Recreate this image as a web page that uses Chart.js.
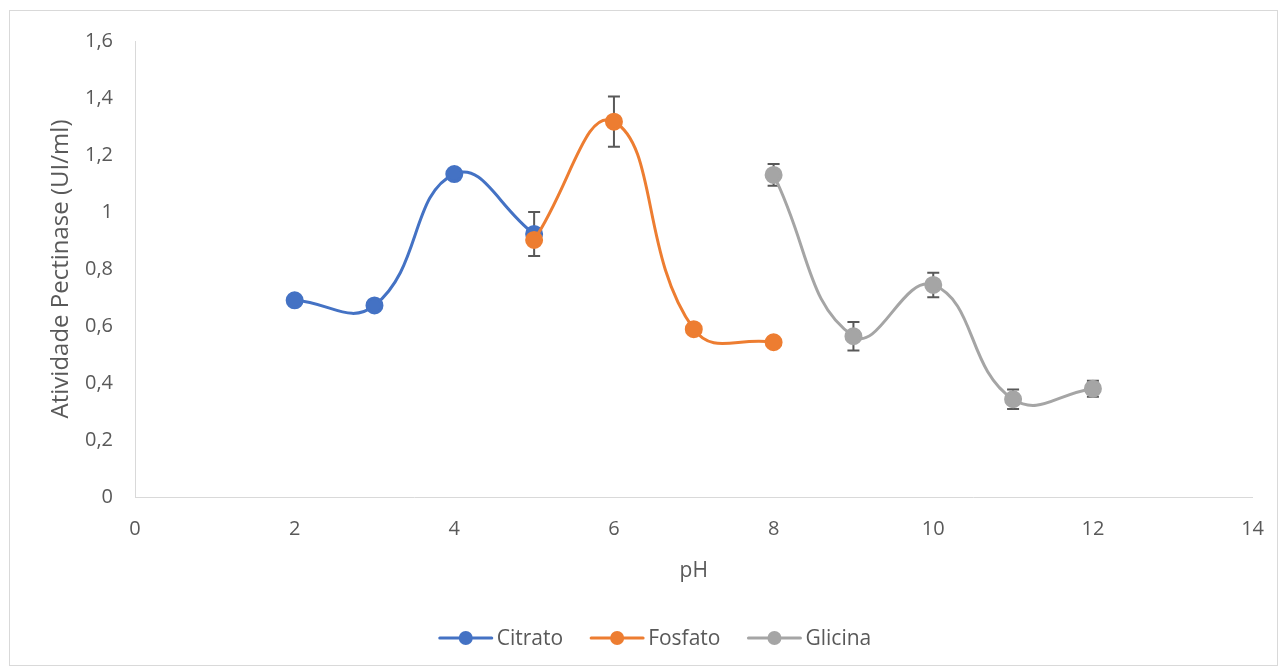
<!DOCTYPE html>
<html>
<head>
<meta charset="utf-8">
<script src="https://cdn.jsdelivr.net/npm/chart.js@4.4.1/dist/chart.umd.min.js"></script>
<style>
  html, body { margin: 0; padding: 0; background: #ffffff; }
  #wrap { position: relative; width: 1284px; height: 670px; }
</style>
</head>
<body>
<div id="wrap"><canvas id="chart" width="1284" height="670"></canvas></div>
<script>
// pH values and activity (UI/ml) per buffer
const citratoPH = [2, 3, 4, 5];
const citratoVal = [0.69, 0.672, 1.133, 0.923];
const citratoErr = [0, 0, 0, 0.077];

const fosfatoPH = [5, 6, 7, 8];
const fosfatoVal = [0.902, 1.317, 0.589, 0.543];
const fosfatoErr = [0, 0.088, 0, 0];

const glicinaPH = [8, 9, 10, 11, 12];
const glicinaVal = [1.13, 0.564, 0.744, 0.343, 0.38];
const glicinaErr = [0.038, 0.05, 0.043, 0.034, 0.028];

const xTickLabels = ['0', '2', '4', '6', '8', '10', '12', '14'];
const yTickLabels = ['0', '0,2', '0,4', '0,6', '0,8', '1', '1,2', '1,4', '1,6'];

const seriesNames = ['Citrato', 'Fosfato', 'Glicina'];
const seriesColors = ['#4472C4', '#ED7D31', '#A5A5A5'];

const FONT = "'Open Sans', 'Liberation Sans', sans-serif";
const TEXT = '#595959';

function points(xs, ys) { return xs.map((x, i) => ({ x: x, y: ys[i] })); }

function lineSet(i, xs, ys, errs, order) {
  return {
    label: seriesNames[i],
    data: points(xs, ys),
    errors: errs,
    borderColor: seriesColors[i],
    backgroundColor: seriesColors[i],
    pointBackgroundColor: seriesColors[i],
    pointBorderColor: seriesColors[i],
    borderWidth: 3,
    pointRadius: 7.5,
    pointHoverRadius: 7.5,
    tension: 0.45,
    fill: false,
    order: order
  };
}

// Light grey frame around the whole chart
const framePlugin = {
  id: 'frame',
  beforeDraw(chart) {
    const ctx = chart.ctx;
    ctx.save();
    ctx.fillStyle = '#ffffff';
    ctx.fillRect(0, 0, chart.width, chart.height);
    ctx.strokeStyle = '#d9d9d9';
    ctx.lineWidth = 1;
    ctx.strokeRect(9.5, 10.5, 1268, 655);
    ctx.restore();
  }
};

// Vertical error bars with caps, drawn beneath the markers
const errorBarPlugin = {
  id: 'errorBars',
  beforeDatasetsDraw(chart) {
    const ctx = chart.ctx;
    const xs = chart.scales.x, ys = chart.scales.y;
    ctx.save();
    ctx.strokeStyle = '#595959';
    ctx.lineWidth = 2;
    chart.data.datasets.forEach(ds => {
      ds.data.forEach((p, i) => {
        const e = ds.errors[i];
        if (!e) return;
        const px = xs.getPixelForValue(p.x);
        const top = ys.getPixelForValue(p.y + e);
        const bot = ys.getPixelForValue(p.y - e);
        ctx.beginPath();
        ctx.moveTo(px, top); ctx.lineTo(px, bot);
        ctx.moveTo(px - 6, top); ctx.lineTo(px + 6, top);
        ctx.moveTo(px - 6, bot); ctx.lineTo(px + 6, bot);
        ctx.stroke();
      });
    });
    ctx.restore();
  }
};

// Legend: line segment with a round marker, followed by the series name
const legendPlugin = {
  id: 'lineLegend',
  afterDraw(chart) {
    const ctx = chart.ctx;
    ctx.save();
    ctx.font = '21px ' + FONT;
    ctx.textBaseline = 'middle';
    const lineLen = 54, gapText = 4, gapItem = 27;
    const widths = seriesNames.map(n => lineLen + gapText + ctx.measureText(n).width);
    const total = widths.reduce((a, b) => a + b, 0) + gapItem * (seriesNames.length - 1);
    let x = 655 - total / 2;
    const y = 638;
    seriesNames.forEach((n, i) => {
      ctx.strokeStyle = seriesColors[i];
      ctx.lineWidth = 3;
      ctx.lineCap = 'round';
      ctx.beginPath();
      ctx.moveTo(x + 1, y); ctx.lineTo(x + lineLen - 1, y);
      ctx.stroke();
      ctx.fillStyle = seriesColors[i];
      ctx.beginPath();
      ctx.arc(x + lineLen / 2, y, 7, 0, Math.PI * 2);
      ctx.fill();
      ctx.fillStyle = TEXT;
      ctx.textAlign = 'left';
      ctx.fillText(n, x + lineLen + gapText, y + 1);
      x += widths[i] + gapItem;
    });
    ctx.restore();
  }
};

new Chart(document.getElementById('chart'), {
  type: 'line',
  data: {
    datasets: [
      lineSet(0, citratoPH, citratoVal, citratoErr, 3),
      lineSet(1, fosfatoPH, fosfatoVal, fosfatoErr, 2),
      lineSet(2, glicinaPH, glicinaVal, glicinaErr, 1)
    ]
  },
  options: {
    responsive: false,
    animation: false,
    layout: { padding: { left: 0, top: 41, right: 31, bottom: 80 } },
    plugins: {
      legend: { display: false },
      tooltip: { enabled: false }
    },
    scales: {
      x: {
        type: 'linear',
        min: 0, max: 14,
        grid: { display: false, drawTicks: false },
        border: { display: true, color: '#d9d9d9', width: 1 },
        ticks: {
          stepSize: 2,
          padding: 20,
          color: TEXT,
          font: { family: FONT, size: 20 },
          maxRotation: 0,
          callback: (v, i) => xTickLabels[i]
        },
        title: {
          display: true, text: 'pH', color: TEXT,
          font: { family: FONT, size: 21 },
          padding: { top: 0, bottom: 6 }
        },
        afterFit(scale) { scale.height = 93; }
      },
      y: {
        min: 0, max: 1.6,
        grid: { display: false, drawTicks: false },
        border: { display: true, color: '#d9d9d9', width: 1 },
        ticks: {
          stepSize: 0.2,
          padding: 22,
          color: TEXT,
          font: { family: FONT, size: 20 },
          callback: (v, i) => yTickLabels[i]
        },
        title: {
          display: true, text: 'Atividade Pectinase (UI/ml)', color: TEXT,
          font: { family: FONT, size: 24 },
          padding: { top: 47, bottom: 0 }
        },
        afterFit(scale) { scale.width = 135; }
      }
    }
  },
  plugins: [framePlugin, errorBarPlugin, legendPlugin]
});
</script>
</body>
</html>
